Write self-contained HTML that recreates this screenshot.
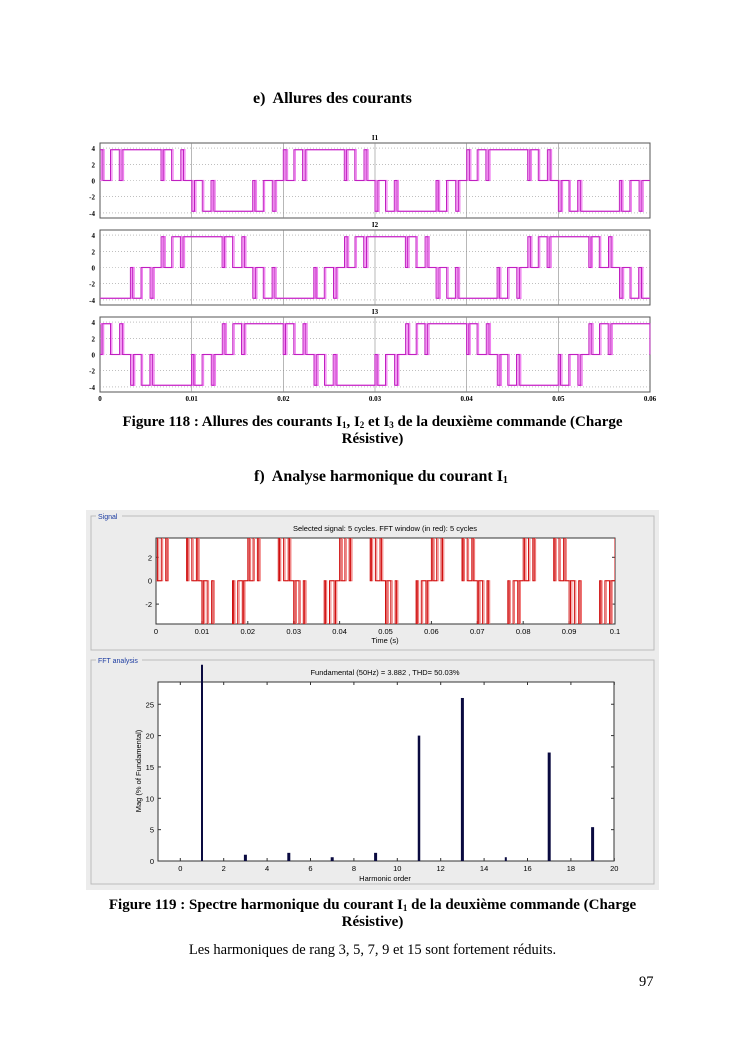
<!DOCTYPE html>
<html><head><meta charset="utf-8"><style>
body{margin:0;background:#fff;}
#pg{position:relative;width:745px;height:1053px;overflow:hidden;font-family:"Liberation Serif",serif;}
.t{position:absolute;white-space:nowrap;}
.b{font-weight:bold;}
sub{vertical-align:-2px;line-height:0;}
</style></head><body><div id="pg">
<div class="t b" style="left:253px;top:90px;font-size:16px;">e)&nbsp; Allures des courants</div>
<div class="t b" style="left:0;width:745px;text-align:center;top:414px;font-size:15px;">Figure 118 : Allures des courants I<sub style="font-size:9px">1</sub>, I<sub style="font-size:9px">2</sub> et I<sub style="font-size:9px">3</sub> de la deuxième commande (Charge</div>
<div class="t b" style="left:0;width:745px;text-align:center;top:431px;font-size:15px;">Résistive)</div>
<div class="t b" style="left:254px;top:468px;font-size:16px;">f)&nbsp; Analyse harmonique du courant I<sub style="font-size:10px">1</sub></div>
<div class="t b" style="left:0;width:745px;text-align:center;top:897px;font-size:15px;">Figure 119 : Spectre harmonique du courant I<sub style="font-size:9px">1</sub> de la deuxième commande (Charge</div>
<div class="t b" style="left:0;width:745px;text-align:center;top:914px;font-size:15px;">Résistive)</div>
<div class="t" style="left:0;width:745px;text-align:center;top:942px;font-size:14.5px;">Les harmoniques de rang 3, 5, 7, 9 et 15 sont fortement réduits.</div>
<div class="t" style="left:639px;top:974px;font-size:14.5px;">97</div>
<svg id="s" width="745" height="1053" style="position:absolute;left:0;top:0" xmlns="http://www.w3.org/2000/svg"></svg>
</div>
<script>
(function(){
var s=document.getElementById('s'),h='';
var HI=[[0,0.3],[1.15,2.1],[2.4,6.65],[6.9,7.8],[8.8,9.1]];
function val(tms){var t=((tms%20)+20)%20,sg=1;if(t>=10){t-=10;sg=-1;}for(var i=0;i<HI.length;i++)if(t>=HI[i][0]&&t<HI[i][1])return sg;return 0;}
function wave(shift,t0,t1,X,Y,amp){var pts=[],step=0.01,prev=null,t;for(t=t0;t<=t1+1e-9;t+=step){var v=val(t-shift)*amp;if(prev===null){pts.push(X(t)+','+Y(v));}else if(v!==prev){pts.push(X(t)+','+Y(prev));pts.push(X(t)+','+Y(v));}prev=v;}pts.push(X(t1)+','+Y(prev));return pts.join(' ');}
var X1=function(t){return (100+t*550/60).toFixed(1)};
var names=['I1','I2','I3'],shifts=[0,6.667,13.333];
for(var k=0;k<3;k++){var o=k*87;var pt=143+o,pb=218+o;
var Y=function(v){return (180.5+o-v*8.1).toFixed(1)};
h+='<rect x="100" y="'+pt+'" width="550" height="'+(pb-pt)+'" fill="#fff" stroke="#555" stroke-width="1"/>';
for(var v=-4;v<=4;v+=2){h+='<line x1="100" x2="650" y1="'+Y(v)+'" y2="'+Y(v)+'" stroke="#999" stroke-width="0.6" stroke-dasharray="1,2"/>';h+='<text x="95" y="'+(+Y(v)+3)+'" font-size="7" font-weight="bold" text-anchor="end" font-family="Liberation Serif">'+v+'</text>';}
for(var i=1;i<6;i++){var x=100+i*550/6;h+='<line x1="'+x+'" x2="'+x+'" y1="'+pt+'" y2="'+pb+'" stroke="#888" stroke-width="0.6"/>';}
h+='<text x="375" y="'+(pt-3)+'" font-size="7" font-weight="bold" text-anchor="middle" font-family="Liberation Serif">'+names[k]+'</text>';
h+='<polyline fill="none" stroke="#f080f0" stroke-width="1.3" points="'+wave(shifts[k]+0.15,0,60,X1,Y,3.8)+'"/>';
h+='<polyline fill="none" stroke="#c020c0" stroke-width="1" points="'+wave(shifts[k],0,60,X1,Y,3.8)+'"/>';}
var lb=['0','0.01','0.02','0.03','0.04','0.05','0.06'];for(var i=0;i<7;i++)h+='<text x="'+(100+i*550/6)+'" y="401" font-size="7" font-weight="bold" text-anchor="middle" font-family="Liberation Serif">'+lb[i]+'</text>';
var F='font-family="Liberation Sans" ';
h+='<rect x="86" y="510" width="573" height="380" fill="#ececec"/>';
h+='<rect x="91" y="516" width="563" height="134" fill="none" stroke="#bbb"/>';
h+='<rect x="91" y="660" width="563" height="224" fill="none" stroke="#bbb"/>';
h+='<rect x="96" y="511" width="26" height="10" fill="#ececec"/><text x="98" y="519" font-size="7" fill="#1a3aa0" '+F+'>Signal</text>';
h+='<rect x="96" y="655" width="46" height="10" fill="#ececec"/><text x="98" y="663" font-size="7" fill="#1a3aa0" '+F+'>FFT analysis</text>';
h+='<rect x="156" y="538" width="459" height="86" fill="#fff" stroke="#333"/>';
h+='<text x="385" y="531" font-size="7.5" text-anchor="middle" '+F+'>Selected signal: 5 cycles. FFT window (in red): 5 cycles</text>';
var X2=function(t){return (156+t*459/100).toFixed(1)};var Y2=function(v){return (580.7-v*11.7).toFixed(1)};
[2,0,-2].forEach(function(v){h+='<text x="152" y="'+(+Y2(v)+3)+'" font-size="7.5" text-anchor="end" '+F+'>'+v+'</text>';h+='<line x1="156" x2="159" y1="'+Y2(v)+'" y2="'+Y2(v)+'" stroke="#333"/><line x1="612" x2="615" y1="'+Y2(v)+'" y2="'+Y2(v)+'" stroke="#333"/>';});
var sl=['0','0.01','0.02','0.03','0.04','0.05','0.06','0.07','0.08','0.09','0.1'];for(var i=0;i<11;i++){var x=156+i*45.9;h+='<text x="'+x+'" y="634" font-size="7.5" text-anchor="middle" '+F+'>'+sl[i]+'</text><line x1="'+x+'" x2="'+x+'" y1="621" y2="624" stroke="#333"/>';}
h+='<text x="385" y="643" font-size="7.5" text-anchor="middle" '+F+'>Time (s)</text>';
h+='<svg x="156" y="538" width="459" height="86" overflow="hidden"><g transform="translate(-156,-538)">';
h+='<polyline fill="none" stroke="#f07070" stroke-width="1" points="'+wave(0.3,0,100,X2,Y2,3.9)+'"/>';
h+='<polyline fill="none" stroke="#d01010" stroke-width="1" points="'+wave(0,0,100,X2,Y2,3.9)+'"/></g></svg>';
h+='<rect x="158" y="682" width="456" height="179" fill="#fff" stroke="#333"/>';
h+='<text x="385" y="675" font-size="7.5" text-anchor="middle" '+F+'>Fundamental (50Hz) = 3.882 , THD= 50.03%</text>';
var X3=function(n){return 180.3+n*21.7};var Y3=function(v){return 861-v*6.27};
for(var v=0;v<=25;v+=5){h+='<text x="154" y="'+(Y3(v)+3)+'" font-size="7.5" text-anchor="end" '+F+'>'+v+'</text><line x1="158" x2="161" y1="'+Y3(v)+'" y2="'+Y3(v)+'" stroke="#333"/><line x1="611" x2="614" y1="'+Y3(v)+'" y2="'+Y3(v)+'" stroke="#333"/>';}
for(var n=0;n<=20;n+=2){h+='<text x="'+X3(n)+'" y="871" font-size="7.5" text-anchor="middle" '+F+'>'+n+'</text><line x1="'+X3(n)+'" x2="'+X3(n)+'" y1="858" y2="861" stroke="#333"/><line x1="'+X3(n)+'" x2="'+X3(n)+'" y1="682" y2="685" stroke="#333"/>';}
h+='<text x="385" y="881" font-size="7.5" text-anchor="middle" '+F+'>Harmonic order</text>';
h+='<text transform="translate(141,771) rotate(-90)" font-size="7.5" text-anchor="middle" '+F+'>Mag (% of Fundamental)</text>';
var bars=[[1,31.3,2],[3,1.0,3],[5,1.3,3],[7,0.6,3],[9,1.3,3],[11,20,2.5],[13,26,3],[15,0.6,2],[17,17.3,3],[19,5.4,3]];
bars.forEach(function(b){var y=Y3(b[1]);h+='<rect x="'+(X3(b[0])-b[2]/2)+'" y="'+y+'" width="'+b[2]+'" height="'+(861-y)+'" fill="#0a0a40"/>';});
s.innerHTML=h;
})();
</script>
</body></html>
